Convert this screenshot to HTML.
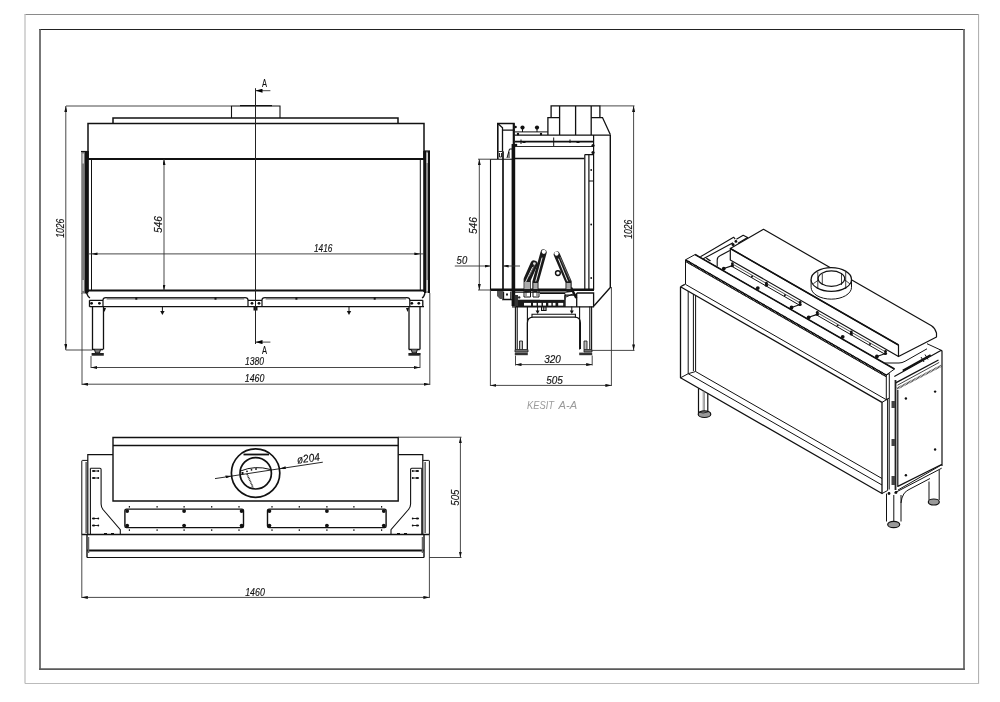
<!DOCTYPE html>
<html><head><meta charset="utf-8"><style>
html,body{margin:0;padding:0;background:#fff;width:1000px;height:702px;overflow:hidden}
svg{display:block;filter:grayscale(1)}
text{font-family:"Liberation Sans",sans-serif;font-style:italic;fill:#111;stroke:#111;stroke-width:0.15}
</style></head><body>
<svg width="1000" height="702" viewBox="0 0 1000 702">
<defs>
<marker id="ar" viewBox="0 0 6 3" refX="6" refY="1.5" markerWidth="6" markerHeight="3" markerUnits="userSpaceOnUse" orient="auto-start-reverse"><path d="M0,0 L6,1.5 L0,3 z" fill="#111"/></marker>
<marker id="arb" viewBox="0 0 7 4" refX="7" refY="2" markerWidth="7" markerHeight="4" markerUnits="userSpaceOnUse" orient="auto-start-reverse"><path d="M0,0 L7,2 L0,4 z" fill="#000"/></marker>
</defs>
<!-- sheet frame -->
<g fill="none">
<path d="M24.5,14.5 H979" stroke="#8a8a8a" stroke-width="1"/>
<path d="M25,14.5 V683.5" stroke="#d6d6d6" stroke-width="2"/>
<path d="M978.6,14 V684" stroke="#aaa" stroke-width="1"/>
<path d="M25,683.5 H979" stroke="#bbb" stroke-width="1"/>
<path d="M39.2,29.5 H964.8" stroke="#222" stroke-width="1.2"/>
<path d="M40,29 V669.9" stroke="#555" stroke-width="1.6"/>
<path d="M964,29 V670" stroke="#6a6a6a" stroke-width="1.8"/>
<path d="M39.2,669.1 H964.8" stroke="#5a5a5a" stroke-width="1.8"/>
</g>

<!-- ================= FRONT VIEW ================= -->
<g id="front" fill="none" stroke="#111" stroke-width="1">
  <!-- flue stub -->
  <path d="M231.5,118 V106 H280 V118" stroke-width="1.1"/>
  <path d="M240,105.6 H272" stroke-width="1.2"/>
  <!-- top plate -->
  <path d="M113,123.5 V118 H398 V123.5" stroke-width="1.5"/>
  <!-- body -->
  <path d="M88,159 V123.6 H424 V159" stroke-width="1.5"/>
  <line x1="88" y1="159" x2="424" y2="159" stroke-width="2"/>
  <line x1="88" y1="290.5" x2="424" y2="290.5" stroke-width="2"/>
  <line x1="91.5" y1="159" x2="91.5" y2="290.5"/>
  <line x1="420.3" y1="159" x2="420.3" y2="290.5"/>
  <line x1="88" y1="151" x2="88" y2="292" stroke-width="1.6"/>
  <line x1="424" y1="151" x2="424" y2="292" stroke-width="1.6"/>
  <!-- side brackets -->
  <rect x="81" y="151.5" width="3.6" height="142" fill="#7a7a7a" stroke="none"/>
  <rect x="81" y="151.5" width="1" height="142" fill="#999" stroke="none"/>
  <rect x="84.6" y="151.5" width="3.7" height="142" fill="#111" stroke="none"/>
  <path d="M81,151.5 H88" stroke-width="1.2"/>
  <path d="M83.2,153.5 V163.5 M83.2,280 V291" stroke="#f2f2f2" stroke-width="1.2"/>
  <rect x="424" y="151" width="2.5" height="142" fill="#111" stroke="none"/>
  <rect x="426.5" y="151" width="1.5" height="142" fill="#888" stroke="none"/>
  <rect x="428" y="151" width="2" height="142" fill="#111" stroke="none"/>
  <path d="M424,151 H430" stroke-width="1.2"/>
  <path d="M427.2,153 V163 M427.2,280 V291" stroke="#f2f2f2" stroke-width="1"/>
  <path d="M86.5,293 Q88,297 90,298 M425,293 Q424,297 422,298" stroke-width="1.3"/>
  <!-- base -->
  <path d="M89.5,300.3 H103 M89.5,306.7 H424 M89.5,300.3 V306.7 M422.8,300.3 V306.7 M409.8,300.3 H422.8 M248,300.3 H262" stroke-width="1.3"/>
  <path d="M103,306.7 V300 Q103,297.6 106,297.6 H245 Q248,297.6 248,300 V306.7" stroke-width="1.2"/>
  <path d="M262,306.7 V300 Q262,297.6 265,297.6 H406.8 Q409.8,297.6 409.8,300 V306.7" stroke-width="1.2"/>
  <path d="M106.6,298.6 H244.3 M265.6,298.6 H406.2" stroke="#777" stroke-width="1.6"/>
  <g fill="#111" stroke="none">
    <circle cx="91.6" cy="303.3" r="1.4"/><circle cx="99.4" cy="303.3" r="1.4"/>
    <circle cx="252" cy="303.3" r="1.4"/><circle cx="259" cy="303.3" r="1.4"/>
    <circle cx="411.8" cy="303.3" r="1.4"/><circle cx="418.8" cy="303.3" r="1.4"/>
    <rect x="135.3" y="297.5" width="2" height="2.2"/><rect x="214.5" y="297.5" width="2" height="2.2"/>
    <rect x="295.4" y="297.5" width="2" height="2.2"/><rect x="373.7" y="297.5" width="2" height="2.2"/>
    <rect x="253.5" y="307" width="4" height="3.5"/>
    <path d="M160.2,311 H164.6 L162.4,315 Z"/><path d="M346.8,311 H351.2 L349,315 Z"/>
    <path d="M103,308 L106,308 L104.5,312 Z"/><path d="M406,308 L409,308 L407.5,312 Z"/>
  </g>
  <path d="M162.4,306.7 V312 M349,306.7 V312" stroke-width="1"/>
  <!-- legs -->
  <path d="M92.5,306.7 V349.5 M103.5,306.7 V349.5 M409,306.7 V349.5 M420,306.7 V349.5" stroke-width="1.3"/>
  <path d="M92,349.5 H103 M408.8,349.5 H419.8" stroke-width="1.3"/>
  <path d="M94.5,349.5 L95.5,353 H99.5 L100.5,349.5 M411.3,349.5 L412.3,353 H416.3 L417.3,349.5" stroke-width="1" fill="#777"/>
  <rect x="91.6" y="353" width="12.2" height="2.7" fill="#222" stroke="none"/>
  <rect x="408.4" y="353" width="12.2" height="2.7" fill="#222" stroke="none"/>
</g>
<!-- front dims -->
<g fill="none" stroke="#333" stroke-width="0.9">
  <line x1="66" y1="106" x2="231" y2="106"/>
  <line x1="65.8" y1="106" x2="65.8" y2="350" marker-start="url(#ar)" marker-end="url(#ar)"/>
  <line x1="65.8" y1="350" x2="92" y2="350"/>
  <line x1="164" y1="159" x2="164" y2="290.5" marker-start="url(#ar)" marker-end="url(#ar)"/>
  <line x1="91.5" y1="253.9" x2="420.3" y2="253.9" marker-start="url(#ar)" marker-end="url(#ar)"/>
  <line x1="420.3" y1="253.9" x2="424" y2="253.9"/>
  <line x1="88" y1="253.9" x2="91.5" y2="253.9"/>
  <line x1="91" y1="356" x2="91" y2="368"/>
  <line x1="420" y1="356" x2="420" y2="368"/>
  <line x1="91" y1="367.5" x2="420" y2="367.5" marker-start="url(#ar)" marker-end="url(#ar)"/>
  <line x1="82" y1="293" x2="82" y2="385"/>
  <line x1="429.8" y1="293" x2="429.8" y2="385"/>
  <line x1="82" y1="384.2" x2="429.8" y2="384.2" marker-start="url(#ar)" marker-end="url(#ar)"/>
  <!-- section line -->
  <line x1="255.5" y1="88.2" x2="255.5" y2="344" stroke="#222" stroke-width="1"/>
  <line x1="270.4" y1="90.7" x2="255.5" y2="90.7" marker-end="url(#arb)"/>
  <line x1="270.4" y1="342.1" x2="255.5" y2="342.1" marker-end="url(#arb)"/>
</g>
<g font-size="11">
  <text x="264.6" y="86.7" text-anchor="middle" style="font-style:normal" font-size="11.7" textLength="5" lengthAdjust="spacingAndGlyphs">A</text>
  <text x="264.6" y="353.5" text-anchor="middle" style="font-style:normal" font-size="10.6" textLength="5" lengthAdjust="spacingAndGlyphs">A</text>
  <text x="314" y="251.7" textLength="18.5" lengthAdjust="spacingAndGlyphs">1416</text>
  <text x="245" y="365.3" textLength="19" lengthAdjust="spacingAndGlyphs">1380</text>
  <text x="244.8" y="381.7" textLength="19.6" lengthAdjust="spacingAndGlyphs">1460</text>
  <text transform="translate(63.9,237.7) rotate(-90)" textLength="19" lengthAdjust="spacingAndGlyphs">1026</text>
  <text transform="translate(162.1,233.1) rotate(-90)" textLength="17" lengthAdjust="spacingAndGlyphs">546</text>
</g>

<!-- ================= SIDE VIEW (KESIT A-A) ================= -->
<g id="side" fill="none" stroke="#111" stroke-width="1.1">
  <!-- flue -->
  <path d="M551.1,117.6 V105.9 H599.9 V117.6" stroke-width="1.3"/>
  <path d="M559.6,105.9 V135 M575.6,105.9 V135 M591.2,105.9 V135" stroke-width="1.3"/>
  <path d="M547.9,135 V117.6 H559.6 M591.2,117.6 H602.5 L610.3,134.5" stroke-width="1.3"/>
  <!-- body outer -->
  <path d="M514.7,135.1 H610.3 V287.5 L594.1,305.7" stroke-width="1.4"/>
  <path d="M514.7,131.9 H547.9" stroke-width="1"/>
  <path d="M497.8,159 V123.5 H514.7" stroke-width="1.6"/>
  <path d="M502.5,130.2 H514.7 M497.8,123.5 L502.5,127.8 V151.3" stroke-width="1.3"/>
  <path d="M513.8,123.4 V145" stroke-width="2.2"/>
  <path d="M513.4,144 V306" stroke-width="3.6"/>
  <path d="M507,158 L509.5,149 H512 M509,158 V152" stroke-width="1"/>
  <path d="M498.5,151.5 H502.5 M499.5,153 V157 H501.5 V153" stroke-width="0.9"/>
  <!-- front glass -->
  <path d="M490.5,159.2 V290 M490.5,159.2 H514" stroke-width="1.1"/>
  <path d="M503,151.3 V290" stroke-width="1.7"/>
  <!-- rails -->
  <path d="M514.7,141.6 H594" stroke-width="1.6"/>
  <path d="M514.7,146.5 H594" stroke-width="0.9"/>
  <path d="M521,139.5 V144 M553.7,137.5 V146 M570,139.5 V143" stroke-width="1"/>
  <path d="M593.6,135 V290 M588.9,154.6 V290 M584.8,154.6 V290 M584.8,154.6 H593.6 M588.9,181 H593.6" stroke-width="1.2"/>
  <path d="M514.7,158.5 H584.3" stroke-width="1.3"/>
  <g fill="#111" stroke="none">
    <circle cx="522.5" cy="127.6" r="2.1"/><circle cx="537" cy="127.6" r="2.1"/>
    <circle cx="515.5" cy="127" r="1.3"/><circle cx="518" cy="134" r="1.2"/><circle cx="541" cy="134" r="1.2"/>
    <circle cx="593" cy="145.5" r="1.6"/><circle cx="593" cy="152.5" r="1.6"/><circle cx="516" cy="145" r="1.3"/>
    <rect x="522.5" y="141" width="3" height="2"/><rect x="576.5" y="141" width="3" height="2"/>
  </g>
  <path d="M522.5,127.6 V132 M537,127.6 V132" stroke-width="1"/>
  <g fill="#111" stroke="none"><circle cx="591.2" cy="170" r="0.9"/><circle cx="591.2" cy="224.5" r="0.9"/><circle cx="591.2" cy="278" r="0.9"/></g>
  <!-- bottom -->
  <path d="M490.5,289.8 H594" stroke-width="2.6"/>
  <path d="M515,292.2 H565 L572,291.3" stroke-width="1.3"/>
  <rect x="516" y="299.7" width="48.8" height="7.2" fill="#1a1a1a" stroke="none"/>
  <g fill="#fff" stroke="none"><rect x="524" y="302.9" width="7.0" height="2.7"/><rect x="533" y="302.9" width="3.6" height="2.7"/><rect x="538" y="302.9" width="3.5" height="2.7"/><rect x="543" y="302.9" width="3.0" height="2.7"/><rect x="548.3" y="302.9" width="3.1" height="2.7"/><rect x="552.8" y="302.9" width="2.7" height="2.7"/><rect x="558.2" y="302.9" width="5.0" height="2.7"/><rect x="540" y="294" width="25" height="5.5"/></g>
  <path d="M540,293.5 H565 V299.7" stroke-width="1"/>
  <path d="M512,306.9 H594.1" stroke-width="1.4"/>
  <path d="M565,295.2 V306.9 M565,295.2 H576.7 M576.7,293 H593.6 V306.9 M576.7,293 V306.9" stroke-width="1.3"/>
  <path d="M541.6,306.9 V310.5 H546 V306.9" stroke-width="1.2"/>
  <path d="M543.8,306.9 V311" stroke-width="1.2"/>
  <path d="M571,287.5 L576.3,298" stroke-width="2.4"/>
  <path d="M503.6,291.4 V299.2 H510.8 V291.4 M502,299.7 H512" stroke-width="1.1"/>
  <g fill="#222" stroke="none">
    <path d="M497,291 H503 V299 H500 L497,296 Z" fill="#555"/>
    <rect x="506" y="293.5" width="2" height="2"/>
    <path d="M514.5,295 H518 V306 H514.5 Z" fill="#333"/>
    <circle cx="519.2" cy="297.4" r="1.2"/>
  </g>
  <!-- logs -->
  <g stroke-linecap="round" stroke-linejoin="round">
    <path d="M527.2,289 V279.5 L534,264" stroke="#1a1a1a" stroke-width="7.2"/>
    <path d="M535.4,289 V282 L543.6,252.5" stroke="#1a1a1a" stroke-width="6.2"/>
    <path d="M568.6,289 V282 L556.8,254.5" stroke="#1a1a1a" stroke-width="6.2"/>
    <path d="M525.6,282 L532.5,267.5" stroke="#fff" stroke-width="0.9"/>
    <path d="M535.8,281 L542,258" stroke="#fff" stroke-width="0.9"/>
    <path d="M567.5,281 L558.5,259" stroke="#fff" stroke-width="0.9"/>
    <path d="M529.3,276 L535.5,263" stroke="#888" stroke-width="0.8" stroke-dasharray="0.8 0.8"/>
    <path d="M570,280 L560,257" stroke="#888" stroke-width="0.8" stroke-dasharray="0.8 0.8"/>
    <circle cx="543.8" cy="251.8" r="2.1" fill="#fff" stroke="none"/>
    <circle cx="556.5" cy="253.6" r="2.1" fill="#fff" stroke="none"/>
    <circle cx="534.3" cy="263.6" r="1.3" fill="#ddd" stroke="none"/>
    <rect x="524.3" y="282" width="5.8" height="7" fill="#aaa" stroke="none"/>
    <rect x="533.4" y="283" width="4.2" height="6" fill="#aaa" stroke="none"/>
    <rect x="566.4" y="283" width="4.2" height="6" fill="#aaa" stroke="none"/>
    <circle cx="557.9" cy="273.1" r="2.4" fill="#fff" stroke="#111" stroke-width="1.4"/>
  </g>
  <g fill="none" stroke="#111" stroke-width="1">
    <path d="M524,291 V297 H530.5 V291 M533,291 V297 H539 V291" />
    <path d="M526,292 V296 M537,292 V296" stroke-width="0.8"/>
    <path d="M566,297 L574,293.5" stroke-width="1"/>
  </g>
  <!-- legs -->
  <path d="M515.4,306.4 V349.6 M527.4,306.4 V349.6 M517.2,306.4 V349.6 M579.6,306.4 V349.6 M591.6,306.4 V349.6 M589.8,306.4 V349.6" stroke-width="1.1"/>
  <path d="M519.5,349.6 V341 H522.5 V349.6 M584,349.6 V341 H587 V349.6" stroke-width="0.8" fill="#bbb"/>
  <path d="M515,349.6 H528 V352 H515 Z M584,349.6 H592 V352 H584 Z" fill="#777" stroke-width="0.8"/>
  <rect x="514.8" y="352.6" width="13" height="2.6" fill="#333" stroke="none"/>
  <rect x="579.2" y="352.6" width="13" height="2.6" fill="#333" stroke="none"/>
  <path d="M527.4,349 V323 Q527.4,317.2 533.5,317.2 H574.5 Q580.4,317.2 580.4,323 V349" stroke-width="1.2"/>
  <path d="M532,317.2 V314.2 H575.4 V317.2" stroke-width="1.1"/>
  <path d="M537.6,306.4 V312.5 M571.8,306.4 V312.5" stroke-width="1"/>
  <g fill="#111" stroke="none"><path d="M535.6,310.5 H539.6 L537.6,314 Z"/><path d="M569.8,310.5 H573.8 L571.8,314 Z"/></g>
</g>
<g fill="none" stroke="#333" stroke-width="0.9">
  <line x1="599.9" y1="105.9" x2="634.5" y2="105.9"/>
  <line x1="633.6" y1="105.9" x2="633.6" y2="350.4" marker-start="url(#ar)" marker-end="url(#ar)"/>
  <line x1="591.6" y1="350.4" x2="634.5" y2="350.4"/>
  <line x1="478" y1="159.2" x2="490.5" y2="159.2"/>
  <line x1="478" y1="290" x2="490.5" y2="290"/>
  <line x1="479.3" y1="159.2" x2="479.3" y2="290" marker-start="url(#ar)" marker-end="url(#ar)"/>
  <line x1="454.8" y1="266" x2="490.5" y2="266" marker-end="url(#ar)"/>
  <line x1="520" y1="266" x2="502.6" y2="266" marker-end="url(#ar)"/>
  <line x1="515.5" y1="355.5" x2="515.5" y2="365.5"/>
  <line x1="592.2" y1="355.5" x2="592.2" y2="365.5"/>
  <line x1="515.5" y1="364.6" x2="592.2" y2="364.6" marker-start="url(#ar)" marker-end="url(#ar)"/>
  <line x1="490.4" y1="290" x2="490.4" y2="386"/>
  <line x1="611.4" y1="287" x2="611.4" y2="386"/>
  <line x1="490.4" y1="385.4" x2="611.4" y2="385.4" marker-start="url(#ar)" marker-end="url(#ar)"/>
</g>
<g font-size="11">
  <text x="544.3" y="362.8" textLength="16.6" lengthAdjust="spacingAndGlyphs">320</text>
  <text x="546.3" y="383.7" textLength="16.6" lengthAdjust="spacingAndGlyphs">505</text>
  <text x="456.6" y="263.7" textLength="10.6" lengthAdjust="spacingAndGlyphs">50</text>
  <text transform="translate(477,234.1) rotate(-90)" textLength="17" lengthAdjust="spacingAndGlyphs">546</text>
  <text transform="translate(631.5,238.7) rotate(-90)" textLength="19" lengthAdjust="spacingAndGlyphs">1026</text>
  <text x="527" y="409" font-size="10.2" textLength="27" lengthAdjust="spacingAndGlyphs" style="fill:#9a9a9a;stroke:none">KESIT</text>
  <text x="558.6" y="409" font-size="10.2" textLength="18.5" lengthAdjust="spacingAndGlyphs" style="fill:#9a9a9a;stroke:none">A-A</text>
</g>

<!-- ================= TOP VIEW ================= -->
<g id="top" fill="none" stroke="#111" stroke-width="1.1">
  <path d="M113,501 V437.5 H398.2 V501 Z" stroke-width="1.4"/>
  <line x1="113" y1="445.5" x2="398.2" y2="445.5" stroke-width="1.4"/>
  <path d="M87.8,534.4 V454.6 H113 M398.2,454.6 H422.8 V534.4" stroke-width="1.2"/>
  <path d="M81.8,534.4 V461 Q81.8,460.4 82.5,460.4 H87.8 M86.1,462 V533" stroke-width="1"/>
  <path d="M429.4,534.4 V461 Q429.4,460.4 428.7,460.4 H422.8 M425.1,462 V533" stroke-width="1"/>
  <path d="M90.4,468.3 H100 Q101.1,468.3 101.1,469.5 V504 Q101.1,507 103,509.5 L120.3,529.6 V534" stroke-width="1.1"/>
  <path d="M421.8,468.3 H411.7 Q410.6,468.3 410.6,469.5 V504 Q410.6,507 408.5,509.5 L391,529.6 V534" stroke-width="1.1"/>
  <path d="M90.4,468.3 V534 M421.8,468.3 V534" stroke-width="1.1"/>
  <rect x="124.9" y="509.1" width="118.6" height="18.5" rx="1.5" stroke-width="1.4"/>
  <rect x="267.5" y="509.1" width="118.60000000000002" height="18.5" rx="1.5" stroke-width="1.4"/>

  <g fill="#111" stroke="none"><circle cx="127.2" cy="511.1" r="1.9"/><circle cx="127.2" cy="525.6" r="1.9"/><circle cx="184.1" cy="511.1" r="1.9"/><circle cx="184.1" cy="525.6" r="1.9"/><circle cx="241.6" cy="511.1" r="1.9"/><circle cx="241.6" cy="525.6" r="1.9"/><circle cx="383.8" cy="511.1" r="1.9"/><circle cx="383.8" cy="525.6" r="1.9"/><circle cx="326.9" cy="511.1" r="1.9"/><circle cx="326.9" cy="525.6" r="1.9"/><circle cx="269.4" cy="511.1" r="1.9"/><circle cx="269.4" cy="525.6" r="1.9"/><rect x="128.8" y="506" width="1.2" height="1.6"/><rect x="128.8" y="529.3" width="1.2" height="1.6"/><rect x="381.0" y="506" width="1.2" height="1.6"/><rect x="381.0" y="529.3" width="1.2" height="1.6"/><rect x="156.5" y="506" width="1.2" height="1.6"/><rect x="156.5" y="529.3" width="1.2" height="1.6"/><rect x="353.3" y="506" width="1.2" height="1.6"/><rect x="353.3" y="529.3" width="1.2" height="1.6"/><rect x="183.5" y="506" width="1.2" height="1.6"/><rect x="183.5" y="529.3" width="1.2" height="1.6"/><rect x="326.3" y="506" width="1.2" height="1.6"/><rect x="326.3" y="529.3" width="1.2" height="1.6"/><rect x="211.1" y="506" width="1.2" height="1.6"/><rect x="211.1" y="529.3" width="1.2" height="1.6"/><rect x="298.7" y="506" width="1.2" height="1.6"/><rect x="298.7" y="529.3" width="1.2" height="1.6"/><rect x="238.4" y="506" width="1.2" height="1.6"/><rect x="238.4" y="529.3" width="1.2" height="1.6"/><rect x="271.4" y="506" width="1.2" height="1.6"/><rect x="271.4" y="529.3" width="1.2" height="1.6"/>
    <ellipse cx="93.6" cy="471" rx="1.7" ry="1.1"/><circle cx="98.3" cy="471" r="0.9"/><path d="M93.6,471 H98.3" stroke="#111" stroke-width="0.9"/>
    <ellipse cx="417.4" cy="471" rx="1.7" ry="1.1"/><circle cx="412.7" cy="471" r="0.9"/><path d="M417.4,471 H412.7" stroke="#111" stroke-width="0.9"/>
    <ellipse cx="93.6" cy="478" rx="1.7" ry="1.1"/><circle cx="98.3" cy="478" r="0.9"/><path d="M93.6,478 H98.3" stroke="#111" stroke-width="0.9"/>
    <ellipse cx="417.4" cy="478" rx="1.7" ry="1.1"/><circle cx="412.7" cy="478" r="0.9"/><path d="M417.4,478 H412.7" stroke="#111" stroke-width="0.9"/>
    <ellipse cx="93.6" cy="518.5" rx="1.7" ry="1.1"/><circle cx="98.3" cy="518.5" r="0.9"/><path d="M93.6,518.5 H98.3" stroke="#111" stroke-width="0.9"/>
    <ellipse cx="417.4" cy="518.5" rx="1.7" ry="1.1"/><circle cx="412.7" cy="518.5" r="0.9"/><path d="M417.4,518.5 H412.7" stroke="#111" stroke-width="0.9"/>
    <ellipse cx="93.6" cy="525.5" rx="1.7" ry="1.1"/><circle cx="98.3" cy="525.5" r="0.9"/><path d="M93.6,525.5 H98.3" stroke="#111" stroke-width="0.9"/>
    <ellipse cx="417.4" cy="525.5" rx="1.7" ry="1.1"/><circle cx="412.7" cy="525.5" r="0.9"/><path d="M417.4,525.5 H412.7" stroke="#111" stroke-width="0.9"/>
    <rect x="104" y="533" width="3" height="1.5"/><rect x="111" y="533" width="3" height="1.5"/>
    <rect x="397" y="533" width="3" height="1.5"/><rect x="404" y="533" width="3" height="1.5"/>
  </g>
  <line x1="81.8" y1="534.4" x2="429.4" y2="534.4" stroke-width="1.5"/>
  <line x1="87" y1="550.5" x2="424" y2="550.5" stroke-width="1.8"/>
  <line x1="87" y1="557.5" x2="424" y2="557.5" stroke-width="1.1"/>
  <path d="M87,534.4 V557.5 M424,534.4 V557.5" stroke-width="1.4"/>
  <path d="M88.5,537 V553 M422.5,537 V553" stroke="#666" stroke-width="1.5"/>
  <circle cx="255.6" cy="473.1" r="24.2" stroke-width="1.7"/>
  <circle cx="255.7" cy="473.3" r="15.7" stroke-width="1.7"/>
  <path d="M243.5,454.5 H269" stroke-width="1.8"/>
  <path d="M240.5,471 Q255,465 270.5,469.5" stroke-width="1"/>
  <path d="M247,474 L253,487.5" stroke="#222" stroke-width="1.6" stroke-dasharray="1 0.6"/>
  <g fill="#111" stroke="none"><circle cx="247" cy="471.3" r="0.9"/><circle cx="251.5" cy="469.8" r="0.9"/><circle cx="256" cy="469" r="0.9"/><rect x="241.5" y="472" width="2" height="2.5"/></g>
</g>
<g fill="none" stroke="#333" stroke-width="0.9">
  <line x1="398.2" y1="437.2" x2="461.5" y2="437.2"/>
  <line x1="429.4" y1="557.5" x2="461.5" y2="557.5"/>
  <line x1="460.4" y1="437.2" x2="460.4" y2="557.5" marker-start="url(#ar)" marker-end="url(#ar)"/>
  <line x1="81.8" y1="534" x2="81.8" y2="598"/>
  <line x1="429.4" y1="534" x2="429.4" y2="598"/>
  <line x1="81.8" y1="597.4" x2="429.4" y2="597.4" marker-start="url(#ar)" marker-end="url(#ar)"/>
  <line x1="322.8" y1="462.2" x2="279.8" y2="468.7" marker-end="url(#ar)" stroke="#111"/>
  <line x1="279.8" y1="468.7" x2="231.5" y2="476.1" stroke="#111"/>
  <line x1="215" y1="478.6" x2="231.5" y2="476.1" marker-end="url(#ar)" stroke="#111"/>
</g>
<g font-size="11">
  <text x="245.2" y="595.7" textLength="19.6" lengthAdjust="spacingAndGlyphs">1460</text>
  <text transform="translate(297.5,463.8) rotate(-8.7)" textLength="23" lengthAdjust="spacingAndGlyphs">ø204</text>
  <text transform="translate(458.7,505.7) rotate(-90)" textLength="16.2" lengthAdjust="spacingAndGlyphs">505</text>
</g>

<!-- ================= ISOMETRIC ================= -->
<g id="iso" fill="none" stroke="#111" stroke-width="1" stroke-linejoin="round">
  <!-- rails behind top box (left) -->
  <path d="M700.4,256.8 L733.6,237.2 L735.2,239.2 M703.2,258.8 L733,242.8" stroke-width="1.1"/>
  <path d="M736.4,239.2 L743.2,235.2 L747.6,237.6 L738,243.2" stroke-width="1.1"/>
  <g fill="#111" stroke="none"><circle cx="733" cy="244.6" r="1.5"/><circle cx="735.9" cy="241.4" r="1.4"/><path d="M706.5,257.5 L711,260.5 L710,261.5 L706,258.8 Z"/></g>
  <path d="M717.2,266.5 V260 Q717.2,257 720.4,255.6 L729.8,250.6" stroke-width="1.1"/>
  <!-- top box -->
  <path d="M730.3,248.5 L763.5,229.3 L931.5,325.8 Q935,328 936.5,333 V337 L898.5,356.5 V345 Z" stroke-width="1.2"/>
  <path d="M730.3,248.5 L898.5,345" stroke-width="1.5"/>
  <path d="M730.3,248.5 V259.9 L898.5,356.5" stroke-width="1.2"/>
  <!-- body top surface rails -->
  <path d="M732.7,266.81 L800.1,305.5" stroke-width="1"/>
  <path d="M733.7,264.68 L799.1,302.22" stroke-width="0.7"/>
  <path d="M817.3,315.37 L885.4,354.46" stroke-width="1"/>
  <path d="M818.3,313.24 L884.4,351.19" stroke-width="0.7"/>
  <path d="M723.8,268.6 L732.4,265.64" stroke-width="1.1"/>
  <path d="M791.5,307.46 L800.1,304.5" stroke-width="1.1"/>
  <path d="M808.7,317.33 L817.3,314.37" stroke-width="1.1"/>
  <path d="M876.9,356.48 L885.5,353.52" stroke-width="1.1"/>
  <g fill="#111" stroke="none"><circle cx="723.8" cy="268.6" r="1.9"/><circle cx="732.4" cy="265.64" r="1.6"/><circle cx="732.4" cy="263.64" r="1.4"/><circle cx="791.5" cy="307.46" r="1.9"/><circle cx="800.1" cy="304.5" r="1.6"/><circle cx="800.1" cy="302.5" r="1.4"/><circle cx="808.7" cy="317.33" r="1.9"/><circle cx="817.3" cy="314.37" r="1.6"/><circle cx="817.3" cy="312.37" r="1.4"/><circle cx="876.9" cy="356.48" r="1.9"/><circle cx="885.5" cy="353.52" r="1.6"/><circle cx="885.5" cy="351.52" r="1.4"/><circle cx="757.8" cy="288.12" r="1.9"/><circle cx="766.4" cy="285.15" r="1.6"/><circle cx="766.4" cy="283.15" r="1.4"/><circle cx="842.7" cy="336.85" r="1.9"/><circle cx="851.3" cy="333.89" r="1.6"/><circle cx="851.3" cy="331.89" r="1.4"/><circle cx="752" cy="276.39" r="1"/><circle cx="784.9" cy="295.27" r="1"/><circle cx="837.6" cy="325.52" r="1"/><circle cx="870" cy="344.12" r="1"/></g>
  <!-- right of body top -->
  <path d="M884.8,363 H899 Q902,363 905,361.3 L927,348.8" stroke-width="1"/>
  <path d="M927,343.7 L941.3,350.3" stroke-width="1"/>
  <!-- collar -->
  <path d="M811.1,279.5 V287.3 A20.2,11.85 0 0 0 851.5,287.3 V279.5" fill="#fff"/>
  <ellipse cx="831.3" cy="279.5" rx="20.2" ry="11.85" fill="#fff" stroke-width="1.2"/>
  <ellipse cx="831.4" cy="278.6" rx="13.3" ry="7.7" stroke-width="1.2"/>
  <path d="M817.8,272 V289 M822.3,274 V285 M841.5,273 V285 M845.7,272 V289 M813.3,283.7 L818.5,280 M845,280 L850,284" stroke-width="0.8"/>
  <!-- hood -->
  <path d="M685.5,259.8 L695.1,254.5 L894.5,369 L886.3,375 Z" fill="#fff"/>
  <path d="M695.1,254.5 L894.5,369" stroke-width="1.5"/>
  <path d="M685.8,260.6 L886.3,375.8" stroke="#000" stroke-width="2.6" stroke-dasharray="1.1 0.5"/>
  <path d="M685.5,261.5 L886.3,376.8" stroke-width="0.8"/>
  <path d="M685.5,259.8 V284.4 L886.3,399.7 V375 M886.3,375 L889.3,373.5 V398 L886.3,399.7"/>
  <!-- glass frame -->
  <path d="M680.5,286.7 L684.8,284.4 M680.5,286.7 V377.8 L882,493.5 V402.4 L680.5,286.7" stroke-width="1.3"/>
  <path d="M688.2,291 V373.7 L882,485 M693.4,294 V371 M695.6,295.5 V371.5 L882,478.5 M680.5,377.8 L688.2,373.7 L695.6,371.5"/>
  <path d="M882,402.4 L887.6,399 V490.5 L882,493.5 M889.2,398 V489.5"/>
  <!-- side panel -->
  <path d="M894.3,376.4 L941.3,350.3 L942,351 V466 M897.8,390 V486.4 L941.5,464.5" stroke-width="1.2"/>
  <path d="M902.8,370.7 L930.6,355" stroke="#111" stroke-width="2"/>
  <path d="M895.7,382.8 L938.5,360" stroke-width="1.4"/>
  <path d="M897.5,385.2 L939.2,362.4" stroke-width="0.8"/>
  <path d="M897.1,388.6 L941.3,365.8" stroke="#333" stroke-width="2.2" stroke-dasharray="0.8 0.6"/>
  <path d="M921,357 L924,362 M925,354.5 L928,359.5" stroke-width="1"/>
  <path d="M895.5,380 V490" stroke="#222" stroke-width="1.8"/>
  <path d="M894.4,493 L941.7,468.2 M898,490 L941.7,464.8"/>
  <!-- legs -->
  <path d="M698.5,388.2 V413 M707.8,393.5 V413" stroke-width="1.2"/><path d="M703.2,391 V412 M704.4,391.5 V412" stroke="#777" stroke-width="0.8"/>
  <ellipse cx="704.5" cy="414.2" rx="6.3" ry="3.3" fill="#999" stroke-width="1.2"/><path d="M698.5,412 Q703,414 707.8,412" stroke-width="0.8"/>
  <path d="M886.5,493.6 V521.5 M901,495 V521.5 M893.8,495 V521"/>
  <ellipse cx="893.7" cy="524.5" rx="6" ry="3.2" fill="#999" stroke-width="1.2"/>
  <path d="M901,503 Q902,492 910,489 L930,478.5 M929,481.5 V500 M939.2,470 V500"/>
  <ellipse cx="933.8" cy="502" rx="5.5" ry="3" fill="#999" stroke-width="1.2"/>
  <!-- side bolts / hinges -->
  <g fill="#111" stroke="none">
    <circle cx="905.9" cy="398.5" r="1.2"/><circle cx="935.1" cy="391.6" r="1.2"/>
    <circle cx="935.1" cy="449.5" r="1.2"/><circle cx="905.9" cy="475.3" r="1.2"/>
    <rect x="891.5" y="401" width="3.5" height="7" fill="#444"/><rect x="891.5" y="439" width="3.5" height="7" fill="#444"/><rect x="891.5" y="476" width="3.5" height="9" fill="#444"/>
    <circle cx="889" cy="493.5" r="1.4"/><circle cx="896" cy="492.5" r="1.4"/>
  </g>
</g>
</svg>
</body></html>
